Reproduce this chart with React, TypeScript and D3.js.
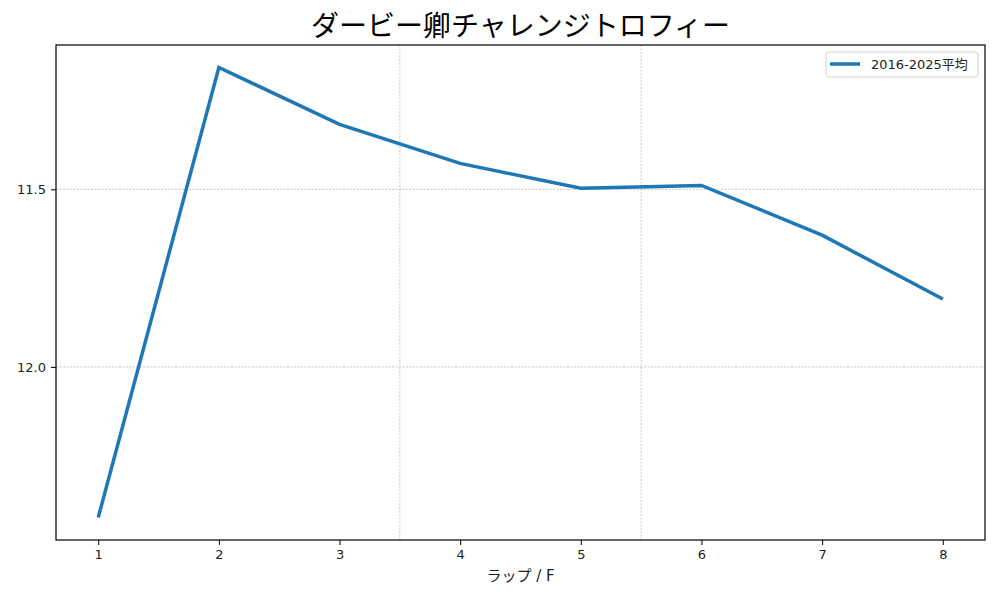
import React, { useRef, useEffect } from "react";
import * as d3 from "d3";

const laps = [1, 2, 3, 4, 5, 6, 7, 8];
const avgTimes = [12.424, 11.157, 11.317, 11.427, 11.497, 11.489, 11.629, 11.809];
const yTicks = [11.5, 12.0];
const xGridLines = [3.5, 5.5];
const seriesLabel = "2016-2025平均";
const title = "ダービー卿チャレンジトロフィー";
const xLabel = "ラップ / F";

const FONT = "'DejaVu Sans', 'Noto Sans CJK JP', sans-serif";
const TITLE_FONT = "'Noto Sans CJK JP', sans-serif";

export const App = () => {
    const svgRef = useRef<SVGSVGElement>(null);

    useEffect(() => {
        if (!svgRef.current) return;
        const svg = d3.select(svgRef.current);
        svg.selectAll("*").remove();

        const width = 1000;
        const height = 600;
        const margin = { top: 45, right: 15, bottom: 60, left: 56 };

        const lo = d3.min(avgTimes)!;
        const hi = d3.max(avgTimes)!;
        const pad = (hi - lo) * 0.05;

        const x = d3
            .scaleLinear()
            .domain([1 - 7 * 0.05, 8 + 7 * 0.05])
            .range([margin.left, width - margin.right]);

        // inverted: faster laps at the top
        const y = d3
            .scaleLinear()
            .domain([lo - pad, hi + pad])
            .range([margin.top, height - margin.bottom]);

        const plot = svg.append("g");

        // grid
        plot.selectAll("line.hgrid")
            .data(yTicks)
            .enter()
            .append("line")
            .attr("x1", margin.left)
            .attr("x2", width - margin.right)
            .attr("y1", (d) => y(d))
            .attr("y2", (d) => y(d))
            .attr("stroke", "#a0a0a0")
            .attr("stroke-width", 0.6)
            .attr("stroke-dasharray", "2,1.5");

        plot.selectAll("line.vgrid")
            .data(xGridLines)
            .enter()
            .append("line")
            .attr("x1", (d) => x(d))
            .attr("x2", (d) => x(d))
            .attr("y1", margin.top)
            .attr("y2", height - margin.bottom)
            .attr("stroke", "#a0a0a0")
            .attr("stroke-width", 0.6)
            .attr("stroke-dasharray", "2,1.5");

        const line = d3
            .line<number>()
            .x((d, i) => x(laps[i]))
            .y((d) => y(d));

        plot.append("path")
            .datum(avgTimes)
            .attr("d", line)
            .attr("fill", "none")
            .attr("stroke", "#1f77b4")
            .attr("stroke-width", 3.5);

        // axes
        const xAxis = svg
            .append("g")
            .attr("transform", `translate(0,${height - margin.bottom})`)
            .call(d3.axisBottom(x).tickValues(laps).tickFormat(d3.format("d")).tickSize(5).tickPadding(5));

        const yAxis = svg
            .append("g")
            .attr("transform", `translate(${margin.left},0)`)
            .call(d3.axisLeft(y).tickValues(yTicks).tickFormat(d3.format(".1f")).tickSize(5).tickPadding(5));

        [xAxis, yAxis].forEach((g) => {
            g.select(".domain").remove();
            g.selectAll("text")
                .attr("font-family", FONT)
                .attr("font-size", 13)
                .attr("fill", "#222");
            g.selectAll("line").attr("stroke", "#000").attr("stroke-width", 1);
        });

        svg.append("rect")
            .attr("x", margin.left)
            .attr("y", margin.top)
            .attr("width", width - margin.left - margin.right)
            .attr("height", height - margin.top - margin.bottom)
            .attr("fill", "none")
            .attr("stroke", "#000")
            .attr("stroke-width", 1.2);

        svg.append("text")
            .attr("x", (margin.left + width - margin.right) / 2)
            .attr("y", 36)
            .attr("text-anchor", "middle")
            .attr("font-family", TITLE_FONT)
            .attr("font-size", 28)
            .attr("fill", "#000")
            .text(title);

        svg.append("text")
            .attr("x", (margin.left + width - margin.right) / 2)
            .attr("y", 581)
            .attr("text-anchor", "middle")
            .attr("font-family", FONT)
            .attr("font-size", 15)
            .attr("fill", "#222")
            .text(xLabel);

        // legend
        const lg = svg.append("g").attr("transform", "translate(826,52)");
        lg.append("rect")
            .attr("width", 152)
            .attr("height", 25)
            .attr("rx", 3)
            .attr("fill", "#fff")
            .attr("fill-opacity", 0.8)
            .attr("stroke", "#d0d0d0");
        lg.append("line")
            .attr("x1", 4)
            .attr("x2", 34)
            .attr("y1", 12)
            .attr("y2", 12)
            .attr("stroke", "#1f77b4")
            .attr("stroke-width", 3.5);
        lg.append("text")
            .attr("x", 45)
            .attr("y", 17)
            .attr("font-family", FONT)
            .attr("font-size", 13)
            .attr("fill", "#222")
            .text(seriesLabel);

        svg.attr("width", width).attr("height", height);
    }, []);

    return <svg ref={svgRef} style={{ display: "block", position: "absolute", left: 0, top: 0 }} />;
};

export default App;
